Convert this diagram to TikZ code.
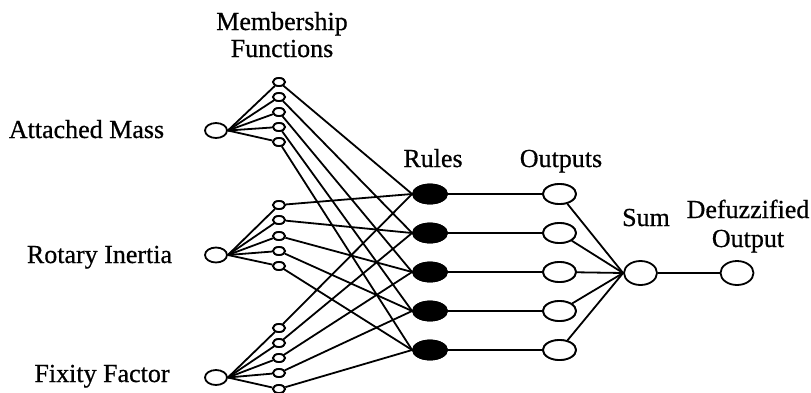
\documentclass[tikz,border=0pt]{standalone}
\usepackage{fontspec}
\setmainfont{Liberation Serif}
\newfontfamily\lblfont{Liberation Serif}[FakeBold=0.6]
\usetikzlibrary{shapes.geometric}
\begin{document}
\begin{tikzpicture}[x=1pt,y=-1pt,line width=1.8pt,
  inp/.style={ellipse,draw,fill=white,minimum width=22pt,minimum height=15pt,inner sep=0pt},
  mf/.style={ellipse,draw,fill=white,minimum width=12pt,minimum height=8pt,inner sep=0pt},
  rule/.style={ellipse,draw,fill=black,minimum width=34pt,minimum height=19pt,inner sep=0pt},
  outn/.style={ellipse,draw,fill=white,minimum width=33pt,minimum height=20pt,inner sep=0pt},
  big/.style={ellipse,draw,fill=white,minimum width=33pt,minimum height=24pt,inner sep=0pt},
  lbl/.style={anchor=base,inner sep=0pt,font=\lblfont\fontsize{26}{28}\selectfont,align=center}]
\useasboundingbox (0,0) rectangle (811,392);
% labels
\node[lbl] (tmf) at (282,30) {Membership};
\node[lbl] (tmf2) at (282,57) {Functions};
\node[lbl] (tam) at (86.5,138) {Attached Mass};
\node[lbl] (tri) at (99.5,263) {Rotary Inertia};
\node[lbl] (tff) at (102,382) {Fixity Factor};
\node[lbl] (trl) at (433,167) {Rules};
\node[lbl] (tout) at (561,167) {Outputs};
\node[lbl] (tsum) at (646,226) {Sum};
\node[lbl] (tdf) at (748,218) {Defuzzified};
\node[lbl] (tdf2) at (748,247) {Output};
% input nodes
\node[inp] (i1) at (216,130.5) {};
\node[inp] (i2) at (216,255) {};
\node[inp] (i3) at (216,377.5) {};
% membership functions
\foreach \y [count=\k] in {82,97,112,127,142} {\node[mf] (a\k) at (279,\y) {};}
\foreach \y [count=\k] in {205,220,236,251,266} {\node[mf] (b\k) at (279,\y) {};}
\foreach \y [count=\k] in {328,343,358,373,389} {\node[mf] (c\k) at (279,\y) {};}
% rules and outputs
\foreach \y [count=\k] in {194,233,272,311,350} {
  \node[rule] (r\k) at (430,\y) {};
  \node[outn] (o\k) at (559.5,\y) {};
}
\node[big] (sum) at (640.5,273) {};
\node[big] (df) at (737,273) {};
% connectors
\foreach \k in {1,...,5} {
  \draw (i1.east) -- (a\k);
  \draw (i2.east) -- (b\k);
  \draw (i3.east) -- (c\k);
  \draw (a\k) -- (r\k.west);
  \draw (b\k) -- (r\k.west);
  \draw (c\k) -- (r\k.west);
  \draw (r\k.east) -- (o\k.west);
  \draw (o\k) -- (sum.west);
}
\draw (sum.east) -- (df.west);
% redraw nodes on top
\foreach \k in {1,...,5} {
  \node[mf] at (a\k) {}; \node[mf] at (b\k) {}; \node[mf] at (c\k) {};
  \node[rule] at (r\k) {}; \node[outn] at (o\k) {};
}
\end{tikzpicture}
\end{document}
